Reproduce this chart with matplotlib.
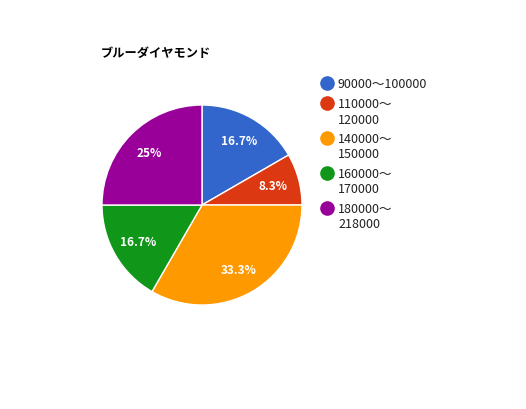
import matplotlib
matplotlib.use("Agg")
import matplotlib.pyplot as plt
from matplotlib.lines import Line2D

plt.rcParams['font.family'] = ['Noto Sans CJK JP', 'DejaVu Sans']

title = "ブルーダイヤモンド"
labels = ["90000〜100000", "110000〜120000", "140000〜150000", "160000〜170000", "180000〜218000"]
counts = [2, 1, 4, 2, 3]
colors = ["#3366cc", "#dc3912", "#ff9900", "#109618", "#990099"]


def wrap(s):
    # google charts breaks long legend entries after the wave dash
    if len(s) > 12:
        a, b = s.split("〜")
        return [a + "〜", b]
    return [s]


W, H = 526, 410
fig = plt.figure(figsize=(W / 100, H / 100), dpi=100)
ax = fig.add_axes([102 / W, 1 - 306 / H, 200 / W, 200 / H])

wedges, texts, autotexts = ax.pie(
    counts, colors=colors, startangle=90, counterclock=False,
    autopct=lambda p: ("%.1f%%" % p).replace(".0%", "%"),
    pctdistance=0.74, radius=1.0,
    wedgeprops=dict(edgecolor="white", linewidth=1.0),
    textprops=dict(color="white", fontsize=8.5, fontweight="bold"))
ax.set_xlim(-1, 1)
ax.set_ylim(-1, 1)
ax.set_aspect("equal")
ax.axis("off")

fig.text(101 / W, 1 - 53 / H, title, fontsize=8.8, fontweight="bold",
         color="black", va="center", ha="left")

# legend drawn by hand so that the dot sits on the first line
y = 84
for lab, c in zip(labels, colors):
    fig.add_artist(Line2D([327 / W], [1 - y / H], marker="o", markersize=9.5,
                          markerfacecolor=c, markeredgecolor=c,
                          transform=fig.transFigure))
    lines = wrap(lab)
    for i, t in enumerate(lines):
        fig.text(338 / W, 1 - (y + 1 + i * 15.5) / H, t, fontsize=9,
                 color="#222222", va="center", ha="left")
    y += (len(lines) - 1) * 15.5 + 19.5

fig.savefig("out.png", dpi=100)
